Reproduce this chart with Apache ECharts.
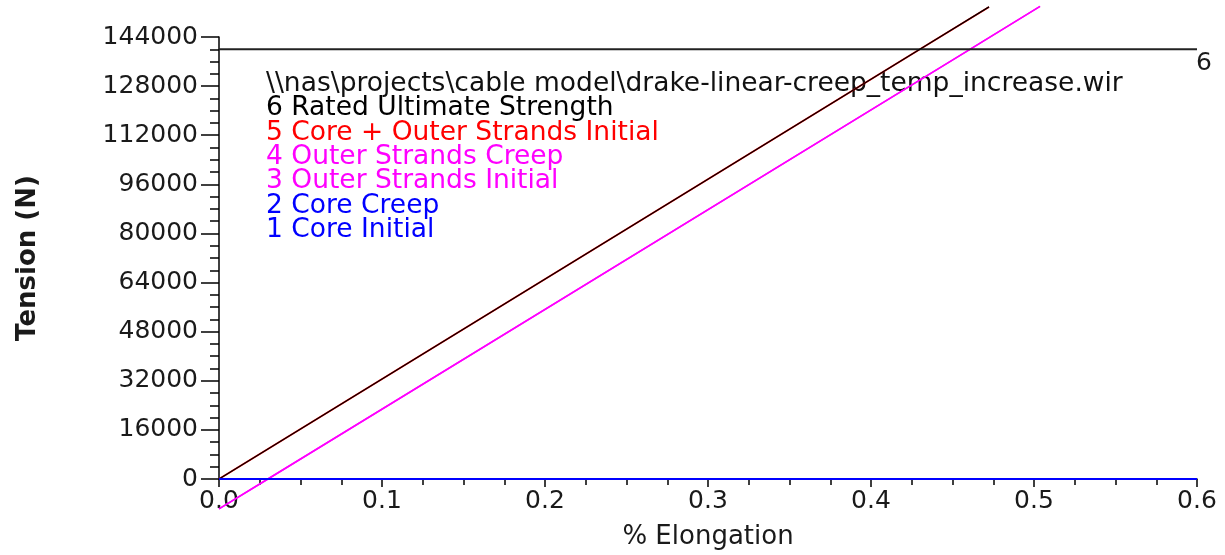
<!DOCTYPE html>
<html>
<head>
<meta charset="utf-8">
<script src="https://cdn.jsdelivr.net/npm/echarts@6/dist/echarts.min.js"></script>
<style>html,body{margin:0;padding:0;background:#fff}#c{width:1225px;height:555px}</style>
</head>
<body>
<div id="c"></div>
<script>
// ---- data ----
const filePath = '\\\\nas\\projects\\cable model\\drake-linear-creep_temp_increase.wir';
const seriesNames = ['1 Core Initial', '2 Core Creep', '3 Outer Strands Initial', '4 Outer Strands Creep', '5 Core + Outer Strands Initial', '6 Rated Ultimate Strength'];
const seriesColors = ['#0000ff', '#0000ff', '#ff00ff', '#ff00ff', '#ff0000', '#000000'];
// % elongation / tension (N)
const coreInitial = [[0, 0], [0.6, 0]];
const coreCreep = [[0, 0], [0.6, 0]];
const outerInitial = [[0, -9750], [0.030, 0], [0.4607, 140000], [0.5037, 153950]];
const outerCreep = [[0, -9750], [0.030, 0], [0.4607, 140000], [0.5037, 153950]];
const totalInitial = [[0, 0], [0.43, 140000], [0.4724, 153800]];
const ratedStrength = [[0, 140000], [0.6, 140000]];
const yMin = 0, yMax = 144000, yStep = 16000;
const xMin = 0, xMax = 0.6, xStep = 0.1;

const FONT = 'DejaVu Sans';
const chart = echarts.init(document.getElementById('c'), null, {renderer: 'canvas'});

const legendLines = [{text: filePath, color: '#111'}].concat(
  seriesNames.slice().reverse().map((n, i) => ({text: n, color: seriesColors.slice().reverse()[i]}))
);
const legendY0 = 84, legendDy = 24.3, legendSize = 26.5;
const graphics = legendLines.map((l, i) => ({
  type: 'text', left: 266, top: legendY0 + i * legendDy - legendSize / 2, silent: true,
  style: {text: l.text, fill: l.color, font: legendSize + 'px "' + FONT + '"'}
}));

function line(name, data, color, width, z) {
  return {name, type: 'line', data, clip: false, symbol: 'none', z: z || 2,
    lineStyle: {color, width}, itemStyle: {color}, animation: false};
}

chart.setOption({
  animation: false,
  grid: {left: 219, right: 28, top: 37, bottom: 76, containLabel: false},
  xAxis: {
    type: 'value', min: xMin, max: xMax, interval: xStep,
    name: '% Elongation', nameLocation: 'middle', nameGap: 45,
    nameTextStyle: {fontFamily: FONT, fontSize: 26, color: '#1a1a1a'},
    axisLine: {show: true, lineStyle: {color: '#000', width: 1.5}},
    axisTick: {show: true, length: 8, lineStyle: {color: '#000', width: 1.5}},
    minorTick: {show: true, splitNumber: 4, length: 6, lineStyle: {color: '#000', width: 1.5}},
    axisLabel: {margin: 10, fontFamily: FONT, fontSize: 25, color: '#1a1a1a', formatter: v => v.toFixed(1)},
    splitLine: {show: false}
  },
  yAxis: {
    type: 'value', min: yMin, max: yMax, interval: yStep,
    name: 'Tension (N)', nameLocation: 'middle', nameGap: 178, nameRotate: 90,
    nameTextStyle: {fontFamily: FONT, fontSize: 26, fontWeight: 'bold', color: '#1a1a1a'},
    axisLine: {show: true, lineStyle: {color: '#000', width: 1.5}},
    axisTick: {show: true, length: 18, lineStyle: {color: '#000', width: 1.5}},
    minorTick: {show: true, splitNumber: 4, length: 9, lineStyle: {color: '#000', width: 1.5}},
    axisLabel: {margin: 21, fontFamily: FONT, fontSize: 25, color: '#1a1a1a', formatter: v => String(v)},
    splitLine: {show: false}
  },
  graphic: graphics,
  series: [
    line(seriesNames[0], coreInitial, seriesColors[0], 2, 5),
    line(seriesNames[1], coreCreep, seriesColors[1], 2, 5),
    line(seriesNames[2], outerInitial, seriesColors[2], 1.5, 3),
    line(seriesNames[3], outerCreep, seriesColors[3], 1.5, 3),
    line(seriesNames[4], totalInitial, seriesColors[4], 1.8, 3),
    line('total overlay', totalInitial, '#000000', 1.3, 4),
    Object.assign(line(seriesNames[5], ratedStrength, '#222222', 2, 3), {
      endLabel: {show: true, formatter: '6', distance: 0, offset: [-1, 14], fontFamily: FONT, fontSize: 25, color: '#1a1a1a'}
    })
  ]
});
</script>
</body>
</html>
